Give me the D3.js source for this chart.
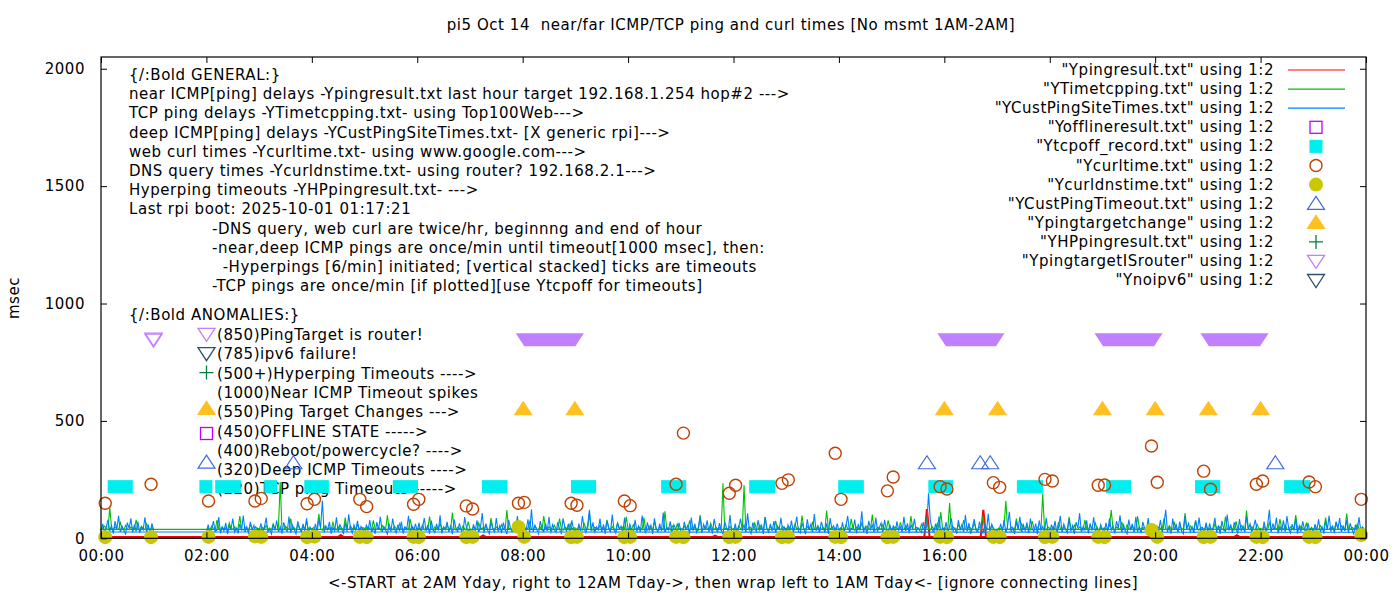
<!DOCTYPE html>
<html>
<head>
<meta charset="utf-8">
<script src="https://cdn.jsdelivr.net/npm/d3@7"></script>
<style>
  body { margin: 0; background: #fff; }
  svg text { font-family: "DejaVu Sans", sans-serif; font-size: 15px; fill: #000; letter-spacing: 0.55px; }
</style>
</head>
<body>
<svg id="chart" width="1400" height="600"></svg>
<script>
//---------------- data -------------------------------------

const titleText = "pi5 Oct 14  near/far ICMP/TCP ping and curl times [No msmt 1AM-2AM]";
const xLabelText = "<-START at 2AM Yday, right to 12AM Tday->, then wrap left to 1AM Tday<- [ignore connecting lines]";

const xTickHours  = [0, 2, 4, 6, 8, 10, 12, 14, 16, 18, 20, 22, 24];
const xTickLabels = ["00:00","02:00","04:00","06:00","08:00","10:00","12:00","14:00","16:00","18:00","20:00","22:00","00:00"];
const yTicks = [0, 500, 1000, 1500, 2000];

// once/min series, thinned to one sample every 2 min
// day part starts 2AM yesterday, wrap part is 0AM..1AM today
const sampleStepHours = 1 / 30;
const dayStartHour = 2;
const wrapStartHour = 0;

const tcpDay = [
  38,44,36,52,40,35,78,42,37,48,39,45,34,66,41,38,50,36,43,95,39,35,47,41,37,58,43,36,49,40,
  42,36,47,39,55,38,44,35,62,41,37,48,240,40,36,51,43,38,84,39,45,35,57,42,37,49,40,72,38,44,
  39,47,36,43,104,40,35,52,41,38,46,37,68,42,36,49,39,44,35,88,41,37,53,40,46,36,59,43,38,45,
  43,37,50,40,36,76,42,38,47,35,55,41,39,98,37,44,36,51,42,38,63,40,35,48,43,37,82,39,45,36,
  37,45,40,58,36,42,38,93,41,35,49,43,37,64,39,46,36,54,42,38,110,40,35,47,43,37,52,41,36,71,
  41,36,48,42,37,66,39,45,35,53,40,38,86,43,36,49,41,37,58,42,35,120,39,44,37,50,42,36,61,40,
  38,46,37,44,71,41,36,52,40,38,47,35,95,42,37,49,43,36,56,40,38,84,41,35,48,43,37,62,39,45,
  44,37,51,40,36,63,42,38,108,41,35,47,43,37,55,39,46,36,79,42,38,50,40,35,66,43,37,48,41,92,
  37,45,39,58,41,36,49,43,37,88,40,35,52,42,38,70,41,36,47,43,37,115,39,45,36,54,42,38,61,40,
  42,38,50,41,36,76,43,37,48,40,35,99,42,38,53,41,36,64,43,37,47,40,46,35,234,39,44,37,51,42,
  39,46,37,53,42,36,227,40,38,49,43,35,68,41,37,57,42,36,90,40,38,48,43,37,74,39,45,36,52,41,
  43,36,48,41,37,62,39,45,35,97,42,38,50,40,36,71,43,37,54,41,38,46,35,118,42,39,49,37,44,40,
  38,45,40,36,57,42,37,83,41,35,48,43,38,65,40,36,52,42,37,101,41,35,47,43,38,59,40,36,76,42,
  41,37,49,43,36,68,40,38,53,42,35,95,41,37,46,43,36,60,42,38,87,40,35,50,41,37,64,43,112,39,
  45,38,42,150,37,48,41,36,58,43,38,77,40,35,51,42,37,66,41,36,49,43,96,38,45,40,37,55,42,36,
  37,44,41,38,55,160,40,36,48,43,37,84,41,35,62,42,38,50,40,36,73,43,37,47,41,38,190,42,36,49,
  42,37,50,40,36,69,43,38,47,41,35,91,42,37,56,40,38,48,43,36,78,41,37,53,42,38,64,40,36,46,
  38,45,41,37,52,120,40,36,48,43,38,70,41,35,57,42,37,49,40,36,94,43,38,46,41,37,61,42,36,51,
  41,36,47,43,38,85,40,35,54,42,37,66,41,38,49,43,36,107,40,37,52,42,38,75,41,35,47,43,37,58,
  37,44,40,36,63,42,38,50,41,35,93,43,37,48,40,36,72,42,38,55,41,37,118,43,36,49,40,38,60,42,
  43,37,51,40,36,67,42,38,47,41,35,82,43,37,56,40,36,49,42,38,99,41,37,52,43,36,64,40,38,46,
  38,46,41,37,54,43,36,88,40,38,49,42,35,71,41,37,53,43,36,105,40,38,47,42,37,60,41,36,48,38
];
const tcpWrap = [38,44,52,41,36,132,43,37,49,40,38,67,42,36,55,41,37,48,43,38,79,40,36,51,42,37,62,41,38,47,40];

const custDay = [
  24,58,19,41,73,28,35,90,22,47,31,66,18,52,38,84,26,44,21,61,33,97,25,49,19,70,36,55,23,42,
  30,64,21,47,88,27,39,18,59,34,76,25,50,20,68,41,29,93,23,56,37,19,72,44,26,61,32,85,22,48,
  35,19,62,28,81,45,160,24,53,36,70,20,47,31,89,26,58,39,18,66,29,102,43,22,57,34,74,25,51,38,
  21,55,33,78,24,46,19,69,38,92,27,50,35,18,63,29,84,41,23,58,32,71,20,47,36,96,26,53,30,62,
  28,67,22,44,86,31,57,19,75,37,24,61,33,98,21,49,39,70,26,55,18,81,42,29,64,35,23,90,46,31,
  37,20,59,32,77,25,48,108,23,63,36,19,71,40,27,86,30,54,22,67,38,18,79,45,28,60,33,95,24,51,
  26,49,34,81,23,124,29,56,38,19,73,42,27,64,31,92,21,58,36,24,69,40,18,85,47,30,61,25,77,35,
  33,18,63,27,95,41,24,57,121,30,68,22,49,37,84,26,59,19,74,43,28,101,35,21,66,39,52,25,88,32,
  23,60,37,19,79,30,52,26,97,44,21,68,34,56,18,85,40,27,63,31,110,24,47,36,72,20,58,42,29,66,
  31,24,70,38,55,19,88,33,62,25,47,93,22,59,36,76,28,51,20,83,41,26,65,34,18,71,45,30,99,27,
  27,63,21,49,84,33,58,24,106,39,20,67,45,29,78,35,55,19,90,42,26,61,31,73,23,52,38,87,28,46,
  20,57,34,75,26,48,92,30,22,66,41,18,81,36,59,25,103,32,50,23,70,44,27,64,19,86,39,53,29,62,
  34,22,68,29,53,96,25,44,37,80,21,61,33,115,27,49,19,74,40,57,24,88,31,46,65,23,79,36,26,58,
  25,55,19,72,36,48,27,91,31,64,22,57,40,83,28,45,33,24,69,33,51,192,78,38,26,62,30,94,23,47,
  29,69,23,51,85,32,44,20,77,37,58,26,99,31,65,19,48,82,35,27,71,41,22,56,34,104,25,60,39,28,
  36,21,62,30,79,24,53,113,28,45,19,72,38,91,26,57,33,68,22,84,40,29,63,18,76,35,50,27,87,31,
  24,58,32,74,20,47,96,27,61,38,23,82,30,54,19,69,43,107,25,50,35,77,21,64,33,89,28,46,22,59,
  38,23,66,29,85,35,52,21,73,44,98,26,57,31,19,80,37,62,24,91,30,48,22,70,41,27,86,33,55,25,
  26,52,34,78,22,61,121,29,46,20,84,36,57,25,71,32,19,94,40,63,27,50,23,76,35,88,30,45,21,67,
  22,64,31,47,87,26,55,19,74,39,28,101,34,59,23,68,43,20,82,30,53,25,92,37,61,27,48,79,33,24,
  35,19,71,28,56,121,24,63,38,88,21,50,32,77,26,95,41,23,60,34,83,20,54,29,72,37,25,66,30,45,
  24,60,33,81,27,49,20,74,36,97,29,55,22,69,40,86,25,52,31,78,23,64,38,19,58,28,90,34,47,26
];
const custWrap = [27,62,22,48,80,31,55,20,73,38,96,26,51,34,19,67,42,85,24,58,30,71,23,46,36,89,28,53,21,64,28];

// near ICMP, flat except a few spikes
const pingTimes  = [2.0, 4.5, 4.55, 4.6, 7.2, 7.25, 7.3, 9.9, 9.95, 10.0, 11.6, 11.65, 11.7,
                    15.62, 15.67, 15.72, 16.69, 16.74, 16.79, 18.82, 18.86, 18.9, 18.94, 18.98,
                    19.02, 19.06, 19.1, 21.5, 21.55, 21.6, 23.95, 0.0, 0.12, 0.15, 0.18, 1.0];
const pingValues = [6, 6, 14, 6, 6, 12, 6, 6, 15, 6, 6, 11, 6,
                    6, 124, 6, 6, 121, 6, 6, 22, 8, 28, 10,
                    25, 9, 6, 6, 13, 6, 6, 6, 6, 14, 6, 6];

// curl + dns, twice/hr
const curlTimes = [0.08, 0.95, 2.04, 2.92, 3.04, 3.91, 4.05, 4.91, 5.04, 5.93, 6.03, 6.93, 7.05,
                   7.92, 8.03, 8.92, 9.03, 9.93, 10.04, 10.91, 11.05, 11.92, 12.04, 12.92, 13.04,
                   13.93, 14.04, 14.92, 15.03, 15.92, 16.05, 16.93, 17.05, 17.91, 18.05, 18.92,
                   19.04, 19.93, 20.04, 20.92, 21.05, 21.92, 22.04, 22.92, 23.04, 23.91];
const curlValues = [149, 230, 159, 159, 170, 147, 166, 166, 135, 145, 166, 138, 125,
                    149, 153, 149, 141, 159, 139, 230, 448, 192, 226, 234, 249,
                    362, 166, 202, 261, 220, 210, 237, 217, 251, 244, 226,
                    227, 393, 239, 286, 209, 230, 244, 240, 220, 166];
const dnsValues  = [5, 5, 6, 8, 6, 5, 7, 6, 5, 6, 5, 5, 6,
                    48, 6, 5, 6, 5, 6, 6, 5, 5, 6, 5, 6,
                    6, 5, 5, 6, 6, 5, 6, 5, 5, 6, 6,
                    5, 35, 6, 5, 6, 6, 5, 6, 5, 14];

// TCP ping timeouts: runs of squares at 220
const tcpoffLevel = 220;
const tcpoffStart = [0.25, 1.99, 2.29, 3.22, 3.98, 5.66, 7.35, 9.04, 10.75, 12.42, 14.11, 15.82, 17.50, 19.19, 20.88, 22.57];
const tcpoffEnd   = [0.48, 1.99, 2.53, 3.22, 4.20, 5.89, 7.59, 9.27, 10.98, 12.67, 14.35, 16.04, 17.75, 19.42, 21.11, 22.82];

const custTimeoutLevel = 320;
const custTimeoutTimes = [3.65, 15.67, 16.68, 16.87, 22.28];

const targetChangeLevel = 550;
const targetChangeTimes = [8.01, 8.99, 16.00, 17.01, 19.00, 20.00, 21.01, 22.00];

// ping target is router: runs of down triangles at 850
const routerLevel = 850;
const routerStart = [0.996, 8.03, 16.03, 19.01, 21.02];
const routerEnd   = [0.996, 9.00, 16.98, 19.98, 21.99];

const generalLines = [
  "{/:Bold GENERAL:}",
  "near ICMP[ping] delays -Ypingresult.txt last hour target 192.168.1.254 hop#2 --->",
  "TCP ping delays -YTimetcpping.txt- using Top100Web--->",
  "deep ICMP[ping] delays -YCustPingSiteTimes.txt- [X generic rpi]--->",
  "web curl times -Ycurltime.txt- using www.google.com--->",
  "DNS query times -Ycurldnstime.txt- using router? 192.168.2.1--->",
  "Hyperping timeouts -YHPpingresult.txt- --->",
  "Last rpi boot: 2025-10-01 01:17:21",
  "-DNS query, web curl are twice/hr, beginnng and end of hour",
  "-near,deep ICMP pings are once/min until timeout[1000 msec], then:",
  "  -Hyperpings [6/min] initiated; [vertical stacked] ticks are timeouts",
  "-TCP pings are once/min [if plotted][use Ytcpoff for timeouts]"
];
const anomalyHead = "{/:Bold ANOMALIES:}";
const anomalyLines = [
  "(850)PingTarget is router!",
  "(785)ipv6 failure!",
  "(500+)Hyperping Timeouts ---->",
  "(1000)Near ICMP Timeout spikes",
  "(550)Ping Target Changes --->",
  "(450)OFFLINE STATE ----->",
  "(400)Reboot/powercycle? ---->",
  "(320)Deep ICMP Timeouts ---->",
  "(220)TCP ping Timeouts ----->"
];
const anomalySymbols = ["router", "noipv6", "plus", "", "target", "offline", "", "custto", ""];

const legendLabels = [
  "\"Ypingresult.txt\" using 1:2",
  "\"YTimetcpping.txt\" using 1:2",
  "\"YCustPingSiteTimes.txt\" using 1:2",
  "\"Yofflineresult.txt\" using 1:2",
  "\"Ytcpoff_record.txt\" using 1:2",
  "\"Ycurltime.txt\" using 1:2",
  "\"Ycurldnstime.txt\" using 1:2",
  "\"YCustPingTimeout.txt\" using 1:2",
  "\"Ypingtargetchange\" using 1:2",
  "\"YHPpingresult.txt\" using 1:2",
  "\"YpingtargetISrouter\" using 1:2",
  "\"Ynoipv6\" using 1:2"
];
const legendKinds = ["ping", "tcp", "cust", "offline", "tcpoff", "curl", "dns", "custto", "target", "plus", "router", "noipv6"];

//---------------- colours -------------------------------------
const COL = {
  ping: "#ff0000", tcp: "#00c000", cust: "#0080ff",
  offline: "#c000ff", tcpoff: "#00eeee", curl: "#c04000", dns: "#c8c800",
  custto: "#4169e1", target: "#ffc020", plus: "#008040",
  router: "#c080ff", noipv6: "#2f4f6f"
};

//---------------- chart -------------------------------------
const svg = d3.select("#chart");
const plotLeft = 101, plotRight = 1366, plotTop = 57, plotBottom = 538.3;

const x = d3.scaleLinear().domain([0, 24]).range([plotLeft, plotRight]);
const y = d3.scaleLinear().domain([0, 2050]).range([plotBottom, plotTop]);

// labels are drawn behind the data
let g = svg.append("g");

g.append("text").attr("x", 731).attr("y", 30).attr("text-anchor", "middle")
  .style("white-space", "pre").text(titleText);
g.append("text").attr("x", 733).attr("y", 588).attr("text-anchor", "middle").text(xLabelText);
g.append("text").attr("transform", "translate(19,298) rotate(-90)").attr("text-anchor", "middle").text("msec");

let genX = [129, 129, 129, 129, 129, 129, 129, 129, 212, 212, 212, 212];
generalLines.forEach(function(t, i) {
  g.append("text").attr("x", genX[i]).attr("y", 80 + i * 19.2)
    .style("white-space", "pre").text(t);
});
g.append("text").attr("x", 129).attr("y", 320).text(anomalyHead);
anomalyLines.forEach(function(t, i) {
  g.append("text").attr("x", 217).attr("y", 340 + i * 19.3).text(t);
});

// point symbols
function symbol(sel, kind, cx, cy) {
  if (kind === "offline") {
    sel.append("rect").attr("x", cx - 6).attr("y", cy - 6).attr("width", 12).attr("height", 12)
      .attr("fill", "none").attr("stroke", COL.offline).attr("stroke-width", 1.3);
  } else if (kind === "tcpoff") {
    sel.append("rect").attr("x", cx - 6.5).attr("y", cy - 6.5).attr("width", 13).attr("height", 13)
      .attr("fill", COL.tcpoff);
  } else if (kind === "curl") {
    sel.append("circle").attr("cx", cx).attr("cy", cy).attr("r", 6)
      .attr("fill", "none").attr("stroke", COL.curl).attr("stroke-width", 1.4);
  } else if (kind === "dns") {
    sel.append("circle").attr("cx", cx).attr("cy", cy).attr("r", 7).attr("fill", COL.dns);
  } else if (kind === "custto" || kind === "target") {
    sel.append("path")
      .attr("d", "M" + (cx - 8.5) + "," + (cy + 5.6) + "L" + (cx + 8.5) + "," + (cy + 5.6) + "L" + cx + "," + (cy - 7.4) + "Z")
      .attr("fill", kind === "target" ? COL.target : "none")
      .attr("stroke", kind === "target" ? COL.target : COL.custto).attr("stroke-width", 1.2);
  } else if (kind === "router" || kind === "noipv6") {
    sel.append("path")
      .attr("d", "M" + (cx - 8.5) + "," + (cy - 5.6) + "L" + (cx + 8.5) + "," + (cy - 5.6) + "L" + cx + "," + (cy + 7.4) + "Z")
      .attr("fill", "none").attr("stroke", COL[kind]).attr("stroke-width", 1.3);
  } else if (kind === "plus") {
    sel.append("path")
      .attr("d", "M" + (cx - 7) + "," + cy + "H" + (cx + 7) + "M" + cx + "," + (cy - 7) + "V" + (cy + 7))
      .attr("stroke", COL.plus).attr("stroke-width", 1.3);
  }
}

let annoOffset = { router: -1, noipv6: -1, plus: -1, target: -3.5, offline: 2, custto: -7.5 };
anomalySymbols.forEach(function(k, i) {
  if (k) symbol(g, k, 206.5, 340 + i * 19.3 - 5 + annoOffset[k]);
});

//---------------- lines -------------------------------------
function seq(values, startHour) {
  return values.map(function(v, i) { return [startHour + i * sampleStepHours, v]; });
}
let line = d3.line().x(d => x(d[0])).y(d => y(d[1]));

let pingData = pingTimes.map((t, i) => [t, pingValues[i]]);
let tcpData  = seq(tcpDay, dayStartHour).concat(seq(tcpWrap, wrapStartHour));
let custData = seq(custDay, dayStartHour).concat(seq(custWrap, wrapStartHour));

let plot = svg.append("g");
plot.append("path").attr("d", line(pingData)).attr("fill", "none").attr("stroke", COL.ping).attr("stroke-width", 2);
plot.append("path").attr("d", line(tcpData)).attr("fill", "none").attr("stroke", COL.tcp).attr("stroke-width", 1.1);
plot.append("path").attr("d", line(custData)).attr("fill", "none").attr("stroke", COL.cust).attr("stroke-width", 1.1);

// tcp timeout runs
tcpoffStart.forEach(function(s, i) {
  plot.append("rect")
    .attr("x", x(s) - 6.5).attr("y", y(tcpoffLevel) - 6.5)
    .attr("width", x(tcpoffEnd[i]) - x(s) + 13).attr("height", 13)
    .attr("fill", COL.tcpoff);
});

curlTimes.forEach((t, i) => symbol(plot, "curl", x(t), y(curlValues[i])));
curlTimes.forEach((t, i) => symbol(plot, "dns", x(t), y(dnsValues[i])));
custTimeoutTimes.forEach(t => symbol(plot, "custto", x(t), y(custTimeoutLevel)));
targetChangeTimes.forEach(t => symbol(plot, "target", x(t), y(targetChangeLevel)));

routerStart.forEach(function(s, i) {
  let e = routerEnd[i], cy = y(routerLevel);
  if (e === s) {
    symbol(plot, "router", x(s), cy);
    plot.append("path")
      .attr("d", "M" + (x(s) - 8.5) + "," + (cy - 4.6) + "L" + (x(s) + 8.5) + "," + (cy - 4.6) + "L" + x(s) + "," + (cy + 8.4) + "Z")
      .attr("fill", "none").attr("stroke", COL.router).attr("stroke-width", 1.3);
  } else {
    plot.append("path")
      .attr("d", "M" + (x(s) - 8.5) + "," + (cy - 5.6) + "L" + (x(e) + 8.5) + "," + (cy - 5.6) +
                 "L" + x(e) + "," + (cy + 7.4) + "L" + x(s) + "," + (cy + 7.4) + "Z")
      .attr("fill", COL.router);
  }
});

//---------------- axes + border -------------------------------------
let xAxis = d3.axisBottom(x).tickValues(xTickHours).tickFormat((d, i) => xTickLabels[i]).tickSize(-6).tickPadding(12);
let xAxisTop = d3.axisTop(x).tickValues(xTickHours).tickFormat("").tickSize(-6);
let yAxis = d3.axisLeft(y).tickValues(yTicks).tickFormat(d3.format("d")).tickSize(-6).tickPadding(16);
let yAxisRight = d3.axisRight(y).tickValues(yTicks).tickFormat("").tickSize(-6);

function styleAxis(a) {
  a.select(".domain").remove();
  a.selectAll("line").attr("stroke", "#000");
  a.selectAll("text").style("font-family", "\"DejaVu Sans\", sans-serif").style("font-size", "15px").attr("fill", "#000");
}
svg.append("g").attr("transform", "translate(0," + plotBottom + ")").call(xAxis).call(styleAxis);
svg.append("g").attr("transform", "translate(0," + plotTop + ")").call(xAxisTop).call(styleAxis);
svg.append("g").attr("transform", "translate(" + plotLeft + ",0)").call(yAxis).call(styleAxis);
svg.append("g").attr("transform", "translate(" + plotRight + ",0)").call(yAxisRight).call(styleAxis);

svg.append("rect").attr("x", plotLeft).attr("y", plotTop).attr("width", plotRight - plotLeft).attr("height", plotBottom - plotTop)
  .attr("fill", "none").attr("stroke", "#000").attr("stroke-width", 1.2);

//---------------- legend -------------------------------------
let leg = svg.append("g");
legendLabels.forEach(function(t, i) {
  let cy = 70 + i * 19.1;
  leg.append("text").attr("x", 1274).attr("y", cy + 5).attr("text-anchor", "end").text(t);
  let k = legendKinds[i];
  if (k === "ping" || k === "tcp" || k === "cust") {
    leg.append("line").attr("x1", 1288).attr("x2", 1345).attr("y1", cy).attr("y2", cy)
      .attr("stroke", COL[k]).attr("stroke-width", 1.2);
  } else {
    symbol(leg, k, 1316, cy);
  }
});
</script>
</body>
</html>
